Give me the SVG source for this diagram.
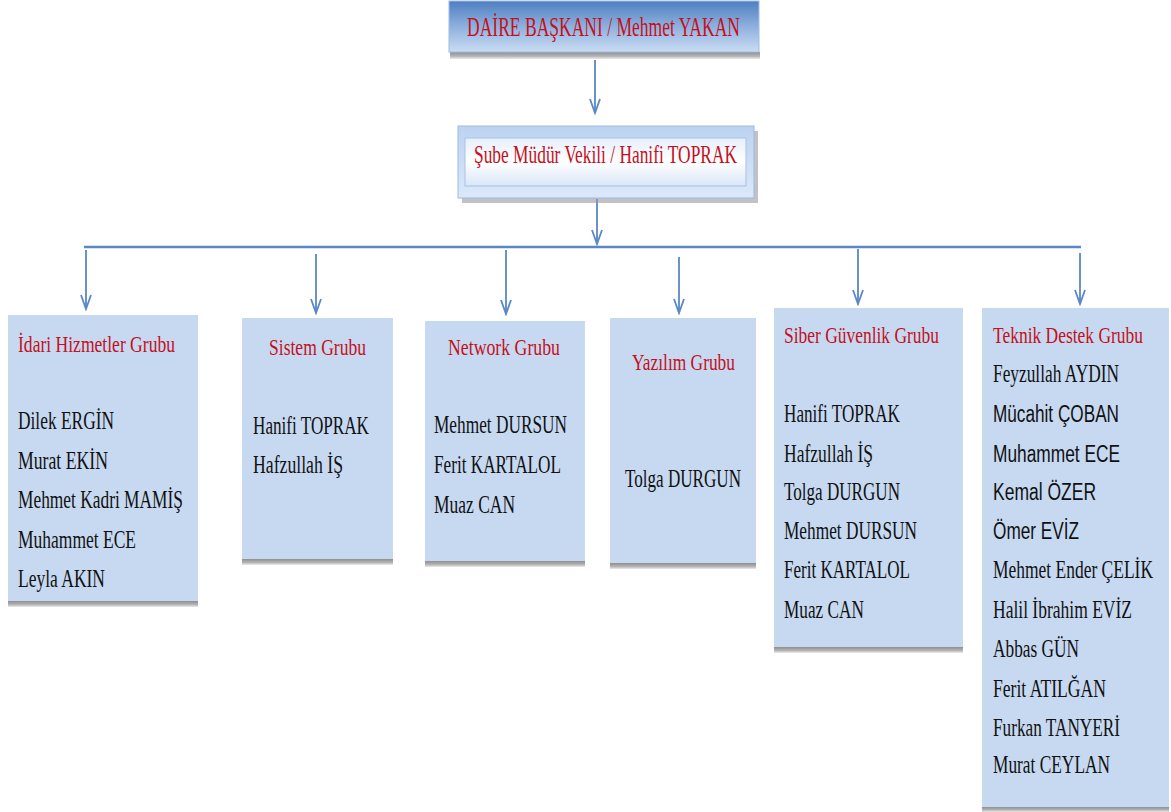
<svg xmlns="http://www.w3.org/2000/svg" width="1171" height="812" viewBox="0 0 1171 812">
<defs>
<linearGradient id="topGrad" x1="0" y1="0" x2="0" y2="1">
<stop offset="0" stop-color="#4f7fc0"/>
<stop offset="0.5" stop-color="#8eb0de"/>
<stop offset="1" stop-color="#cadcf3"/>
</linearGradient>
<linearGradient id="midGrad" x1="0" y1="0" x2="0" y2="1">
<stop offset="0" stop-color="#bcd3f1"/>
<stop offset="1" stop-color="#dbe8f9"/>
</linearGradient>
<linearGradient id="innerGrad" x1="0" y1="0" x2="0" y2="1">
<stop offset="0" stop-color="#e6effb"/>
<stop offset="0.5" stop-color="#ffffff"/>
<stop offset="1" stop-color="#d9e6f7"/>
</linearGradient>
<linearGradient id="shadowGrad" x1="0" y1="0" x2="0" y2="1">
<stop offset="0" stop-color="#8f8f8f"/>
<stop offset="0.6" stop-color="#b5b5b5"/>
<stop offset="1" stop-color="#ececec"/>
</linearGradient>
<marker id="arr" markerUnits="userSpaceOnUse" markerWidth="18" markerHeight="14" viewBox="-16 -7 18 14" refX="0" refY="0" orient="auto">
<path d="M-14,-5 L0,0 L-14,5" fill="none" stroke="#5a87c6" stroke-width="1.8"/>
</marker>
</defs>
<style>
.grp{fill:#c6d9f1}
.shd{fill:url(#shadowGrad)}
.ttl{font-family:"Liberation Serif","Times New Roman",serif;fill:#c4101c}
.nm{font-family:"Liberation Serif","Times New Roman",serif;fill:#111111;font-size:26px}
.ns{font-family:"Liberation Sans",Arial,sans-serif;fill:#111111;font-size:23px}
.con{stroke:#5a87c6;stroke-width:1.8;fill:none}
</style>

<g id="connectors">
<line class="con" x1="595" y1="60" x2="595" y2="113" marker-end="url(#arr)"/>
<line class="con" x1="597" y1="199" x2="597" y2="244" marker-end="url(#arr)"/>
<line x1="84" y1="247" x2="1081" y2="247" stroke="#5a87c6" stroke-width="2.6"/>
<line class="con" x1="86" y1="250" x2="86" y2="309" marker-end="url(#arr)"/>
<line class="con" x1="316" y1="254" x2="316" y2="313" marker-end="url(#arr)"/>
<line class="con" x1="506" y1="250" x2="506" y2="314" marker-end="url(#arr)"/>
<line class="con" x1="679" y1="257" x2="679" y2="313" marker-end="url(#arr)"/>
<line class="con" x1="858" y1="249" x2="858" y2="304" marker-end="url(#arr)"/>
<line class="con" x1="1080" y1="253" x2="1080" y2="304" marker-end="url(#arr)"/>
</g>

<g id="daire-baskani">
<rect x="450" y="52" width="310" height="7" fill="url(#shadowGrad)"/>
<rect x="449" y="1" width="310" height="51" fill="url(#topGrad)" stroke="#9dbbe6" stroke-width="1"/>
<text class="ttl" x="467" y="36" font-size="27" textLength="273" lengthAdjust="spacingAndGlyphs">DAİRE BAŞKANI  / Mehmet YAKAN</text>
</g>

<g id="sube-muduru">
<rect x="462" y="131" width="296" height="72" fill="#9a9a9a" opacity="0.6"/>
<rect x="458" y="126" width="296" height="72" fill="url(#midGrad)" stroke="#9bb9e4" stroke-width="1"/>
<rect x="465" y="138" width="281" height="48" fill="url(#innerGrad)" stroke="#a9c1e3" stroke-width="1"/>
<text class="ttl" x="474" y="163" font-size="26" textLength="263" lengthAdjust="spacingAndGlyphs">Şube Müdür  Vekili / Hanifi TOPRAK</text>
</g>

<g id="idari-hizmetler">
<rect class="shd" x="8" y="601" width="190" height="6"/>
<rect class="grp" x="8" y="315" width="190" height="286"/>
<text class="ttl" x="18" y="352" font-size="23" textLength="157" lengthAdjust="spacingAndGlyphs">İdari Hizmetler Grubu</text>
<text class="nm" x="18" y="429" textLength="96" lengthAdjust="spacingAndGlyphs">Dilek ERGİN</text>
<text class="nm" x="18" y="469" textLength="90" lengthAdjust="spacingAndGlyphs">Murat EKİN</text>
<text class="nm" x="18" y="508" textLength="165" lengthAdjust="spacingAndGlyphs">Mehmet Kadri MAMİŞ</text>
<text class="nm" x="18" y="548" textLength="118" lengthAdjust="spacingAndGlyphs">Muhammet  ECE</text>
<text class="nm" x="18" y="587" textLength="87" lengthAdjust="spacingAndGlyphs">Leyla AKIN</text>
</g>

<g id="sistem">
<rect class="shd" x="242" y="559" width="151" height="6"/>
<rect class="grp" x="242" y="318" width="151" height="241"/>
<text class="ttl" x="269" y="355" font-size="23" textLength="97" lengthAdjust="spacingAndGlyphs">Sistem Grubu</text>
<text class="nm" x="253" y="434" textLength="116" lengthAdjust="spacingAndGlyphs">Hanifi TOPRAK</text>
<text class="nm" x="253" y="473" textLength="90" lengthAdjust="spacingAndGlyphs">Hafzullah İŞ</text>
</g>

<g id="network">
<rect class="shd" x="425" y="561" width="160" height="6"/>
<rect class="grp" x="425" y="321" width="160" height="240"/>
<text class="ttl" x="448" y="355" font-size="23" textLength="112" lengthAdjust="spacingAndGlyphs">Network Grubu</text>
<text class="nm" x="434" y="433" textLength="133" lengthAdjust="spacingAndGlyphs">Mehmet DURSUN</text>
<text class="nm" x="434" y="473" textLength="127" lengthAdjust="spacingAndGlyphs">Ferit KARTALOL</text>
<text class="nm" x="434" y="513" textLength="81" lengthAdjust="spacingAndGlyphs">Muaz CAN</text>
</g>

<g id="yazilim">
<rect class="shd" x="610" y="563" width="146" height="6"/>
<rect class="grp" x="610" y="318" width="146" height="245"/>
<text class="ttl" x="632" y="370" font-size="23" textLength="103" lengthAdjust="spacingAndGlyphs">Yazılım Grubu</text>
<text class="nm" x="625" y="487" textLength="116" lengthAdjust="spacingAndGlyphs">Tolga DURGUN</text>
</g>

<g id="siber-guvenlik">
<rect class="shd" x="774" y="647" width="189" height="6"/>
<rect class="grp" x="774" y="308" width="189" height="339"/>
<text class="ttl" x="784" y="343" font-size="23" textLength="155" lengthAdjust="spacingAndGlyphs">Siber Güvenlik Grubu</text>
<text class="nm" x="784" y="422" textLength="116" lengthAdjust="spacingAndGlyphs">Hanifi TOPRAK</text>
<text class="nm" x="784" y="462" textLength="89" lengthAdjust="spacingAndGlyphs">Hafzullah İŞ</text>
<text class="nm" x="784" y="500" textLength="116" lengthAdjust="spacingAndGlyphs">Tolga DURGUN</text>
<text class="nm" x="784" y="539" textLength="133" lengthAdjust="spacingAndGlyphs">Mehmet DURSUN</text>
<text class="nm" x="784" y="578" textLength="126" lengthAdjust="spacingAndGlyphs">Ferit KARTALOL</text>
<text class="nm" x="784" y="618" textLength="80" lengthAdjust="spacingAndGlyphs">Muaz CAN</text>
</g>

<g id="teknik-destek">
<rect class="shd" x="982" y="807" width="187" height="5"/>
<rect class="grp" x="982" y="308" width="187" height="499"/>
<g transform="translate(993,0) scale(0.68,1)">
<text class="ttl" x="0" y="343" font-size="23" textLength="220.6" lengthAdjust="spacingAndGlyphs">Teknik Destek  Grubu</text>
<text class="nm" x="0" y="382" textLength="185.3" lengthAdjust="spacingAndGlyphs">Feyzullah AYDIN</text>
<text class="ns" x="0" y="422" textLength="185.3" lengthAdjust="spacingAndGlyphs">Mücahit ÇOBAN</text>
<text class="ns" x="0" y="462" textLength="186.8" lengthAdjust="spacingAndGlyphs">Muhammet ECE</text>
<text class="ns" x="0" y="500" textLength="151.5" lengthAdjust="spacingAndGlyphs">Kemal ÖZER</text>
<text class="ns" x="0" y="539" textLength="126.5" lengthAdjust="spacingAndGlyphs">Ömer EVİZ</text>
<text class="nm" x="0" y="578" textLength="235.3" lengthAdjust="spacingAndGlyphs">Mehmet Ender ÇELİK</text>
<text class="nm" x="0" y="618" textLength="204.4" lengthAdjust="spacingAndGlyphs">Halil İbrahim EVİZ</text>
<text class="nm" x="0" y="657" textLength="126.5" lengthAdjust="spacingAndGlyphs">Abbas GÜN</text>
<text class="nm" x="0" y="697" textLength="166.2" lengthAdjust="spacingAndGlyphs">Ferit ATILĞAN</text>
<text class="nm" x="0" y="736" textLength="186.8" lengthAdjust="spacingAndGlyphs">Furkan TANYERİ</text>
<text class="nm" x="0" y="773" textLength="172.1" lengthAdjust="spacingAndGlyphs">Murat CEYLAN</text>
</g>
</g>
</svg>
